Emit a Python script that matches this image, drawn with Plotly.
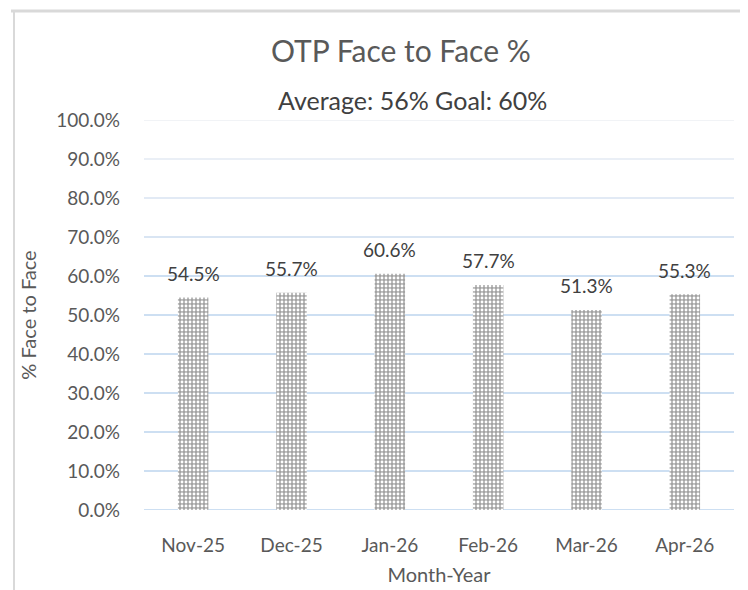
import plotly.graph_objects as go

months = ["Nov-25", "Dec-25", "Jan-26", "Feb-26", "Mar-26", "Apr-26"]
face_pct = [54.5, 55.7, 60.6, 57.7, 51.3, 55.3]
y_ticks = [0, 10, 20, 30, 40, 50, 60, 70, 80, 90, 100]
y_tick_labels = [f"{v:.1f}%" for v in y_ticks]
title_text = "OTP Face to Face %"
subtitle_text = "Average: 56% Goal: 60%"

W, H = 748, 590
ML, MR, MT, MB = 136, 22, 112, 88
PW, PH = W - ML - MR, H - MT - MB

def px_x(px):
    return (px - ML) / PW

def px_y(py):
    return (H - MB - py) / PH

FONT = "Lato, Carlito, Calibri, sans-serif"
TXT = "#595959"

fig = go.Figure()
fig.add_trace(go.Bar(
    x=months, y=face_pct, width=0.31,
    marker=dict(
        color="#a3a3a3",
        line=dict(width=0),
        pattern=dict(shape=".", fgcolor="#ffffff", bgcolor="#a3a3a3",
                     size=4, solidity=0.4, fillmode="replace"),
    ),
    hoverinfo="skip",
))

shapes = []
# gridlines fading toward the top
grid_cols = {100: "#f1f3f6", 90: "#eaeff6", 80: "#e2eaf5", 70: "#d9e5f3"}
for v in y_ticks:
    shapes.append(dict(type="line", xref="paper", yref="y", x0=0, x1=1, y0=v, y1=v,
                       line=dict(color=grid_cols.get(v, "#cddff2"), width=2), layer="below"))
# chart border
shapes.append(dict(type="line", xref="paper", yref="paper", x0=px_x(3), x1=px_x(760),
                   y0=px_y(3), y1=px_y(3), line=dict(color="#d9d9d9", width=3)))
shapes.append(dict(type="line", xref="paper", yref="paper", x0=px_x(6), x1=px_x(6),
                   y0=px_y(3), y1=px_y(600), line=dict(color="#d9d9d9", width=2)))

annotations = []
for m, v in zip(months, face_pct):
    annotations.append(dict(x=m, y=v, xref="x", yref="y", text=f"{v:.1f}%", showarrow=False,
                            yshift=24, yanchor="middle", font=dict(family=FONT, size=19, color="#404040")))
annotations.append(dict(x=px_x(393), y=px_y(42), xref="paper", yref="paper", text=title_text,
                        showarrow=False, xanchor="center", yanchor="middle",
                        font=dict(family=FONT, size=30, color=TXT)))
annotations.append(dict(x=px_x(404), y=px_y(92), xref="paper", yref="paper", text=subtitle_text,
                        showarrow=False, xanchor="center", yanchor="middle",
                        font=dict(family=FONT, size=25, color="#404040")))

fig.update_layout(
    width=W, height=H,
    margin=dict(l=ML, r=MR, t=MT, b=MB, autoexpand=False),
    paper_bgcolor="white", plot_bgcolor="white",
    showlegend=False,
    font=dict(family=FONT, color=TXT, size=19),
    shapes=shapes,
    annotations=annotations,
    xaxis=dict(
        showgrid=False, zeroline=False, showline=False, ticks="",
        tickfont=dict(family=FONT, size=19, color=TXT),
        ticklabelstandoff=22,
        title=dict(text="Month-Year", font=dict(family=FONT, size=20, color=TXT), standoff=12),
        fixedrange=True,
    ),
    yaxis=dict(
        range=[0, 100], tickvals=y_ticks, ticktext=y_tick_labels,
        showgrid=False, zeroline=False, showline=False, ticks="",
        tickfont=dict(family=FONT, size=19, color=TXT),
        ticklabelstandoff=23,
        title=dict(text="% Face to Face", font=dict(family=FONT, size=20, color=TXT), standoff=14),
        fixedrange=True,
    ),
)

fig.write_html("out.html")
